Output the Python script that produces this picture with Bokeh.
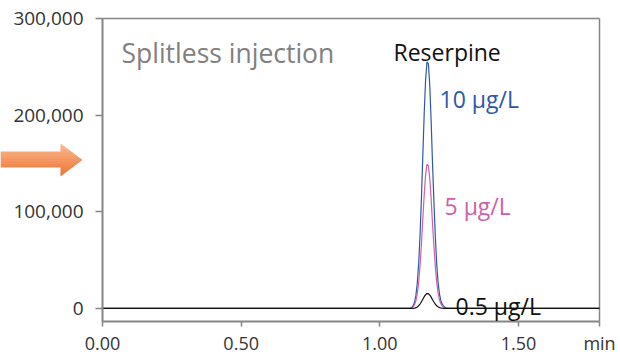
from bokeh.plotting import figure
from bokeh.models import Label, NumeralTickFormatter, FixedTicker
from bokeh.embed import file_html
from bokeh.resources import INLINE

# ---------------- data ----------------
times = [0.00, 1.100, 1.110, 1.115, 1.120, 1.125, 1.130, 1.135, 1.140, 1.145, 1.150,
         1.155, 1.160, 1.165, 1.170, 1.175, 1.180, 1.185, 1.190, 1.195, 1.200,
         1.205, 1.210, 1.215, 1.220, 1.225, 1.230, 1.235, 1.240, 1.250, 1.792]

resp_10 = [0, 0, 400, 1100, 2800, 6400, 13500, 26200, 46500, 76000, 114600,
           158600, 202000, 236700, 255200, 253100, 231000, 193800, 149600, 110500, 74500,
           46300, 27000, 14900, 8000, 4400, 2300, 1300, 500, 0, 0]

resp_5 = [0, 0, 230, 640, 1630, 3740, 7880, 15300, 27100, 44400, 66900,
          92600, 117900, 138200, 149000, 147700, 134800, 113100, 87300, 64500, 43500,
          27000, 15800, 8700, 4700, 2600, 1300, 760, 290, 0, 0]

resp_05 = [0, 0, 24, 66, 170, 390, 810, 1580, 2800, 4580, 6910,
           9560, 12180, 14270, 15390, 15260, 13930, 11690, 9020, 6660, 4490,
           2790, 1630, 900, 480, 270, 140, 80, 30, 0, 0]

x_ticks = [0.0, 0.5, 1.0, 1.5]
y_ticks = [0, 100000, 200000, 300000]

series_labels = ["10 µg/L", "5 µg/L", "0.5 µg/L"]
title_text = "Splitless injection"
compound = "Reserpine"
x_unit = "min"

# ---------------- layout constants ----------------
W, H = 620, 354
T_END = 1.792                # right end of the time axis
Y_BOT, Y_TOP = -13500, 300000
PX_L, PX_R = 102, 599        # pixel x of time 0 and T_END
PY_T, PY_B = 18, 321         # pixel y of Y_TOP and Y_BOT
KX = T_END / (PX_R - PX_L)
KY = (Y_TOP - Y_BOT) / (PY_B - PY_T)

def dx(px):
    return (px - PX_L) * KX

def dy(py):
    return Y_TOP - (py - PY_T) * KY

FONT = "Open Sans"
BLUE = "#2D58A7"
PINK = "#CE5FAA"
BLACK = "#111111"
AXIS = "#858585"

# the frame covers the whole canvas; axes are pinned with fixed_location
p = figure(width=W, height=H, x_range=(dx(0), dx(W)), y_range=(dy(H), dy(0)),
           output_backend="svg", toolbar_location=None,
           min_border_left=0, min_border_right=0, min_border_top=0, min_border_bottom=0)

p.grid.visible = False
p.background_fill_color = "white"
p.border_fill_color = "white"
p.outline_line_color = None

for ax in (p.xaxis, p.yaxis):
    ax.axis_line_color = AXIS
    ax.axis_line_width = 2
    ax.major_tick_line_color = AXIS
    ax.major_tick_line_width = 1.5
    ax.major_tick_in = 0
    ax.minor_tick_line_color = None
    ax.major_label_text_font = FONT
    ax.major_label_text_color = "#333333"

p.yaxis.major_label_text_font_size = "19px"
p.xaxis.major_label_text_font_size = "18px"

p.xaxis.ticker = FixedTicker(ticks=x_ticks + [T_END])
p.xaxis.formatter = NumeralTickFormatter(format="0.00")
p.xaxis.major_label_overrides = {T_END: x_unit}
p.xaxis.bounds = (0, T_END)
p.xaxis.fixed_location = Y_BOT
p.xaxis.major_tick_out = 5
p.xaxis.major_label_standoff = 4

p.yaxis.ticker = FixedTicker(ticks=y_ticks)
p.yaxis.formatter = NumeralTickFormatter(format="0,0")
p.yaxis.bounds = (Y_BOT, Y_TOP)
p.yaxis.fixed_location = 0
p.yaxis.major_tick_out = 7
p.yaxis.major_label_standoff = 12

# top and right frame lines
p.segment(x0=[0, T_END], y0=[Y_TOP, Y_TOP], x1=[T_END, T_END], y1=[Y_TOP, Y_BOT],
          line_color=AXIS, line_width=1.5)

p.line(times, resp_10, line_color=BLUE, line_width=1.2)
p.line(times, resp_5, line_color=PINK, line_width=1.2)
p.line(times, resp_05, line_color=BLACK, line_width=1.2)

def lab(x, y, text, color, size, baseline="alphabetic"):
    p.add_layout(Label(x=x, y=y, text=text, text_color=color, text_font=FONT,
                       text_font_size=size, text_baseline=baseline))

lab(dx(121), dy(52), title_text, "#808080", "26.5px")
lab(dx(393), dy(51), compound, "#111111", "23px")
lab(dx(439), dy(98), series_labels[0], BLUE, "23px")
lab(dx(444), dy(205), series_labels[1], PINK, "23px")
lab(dx(455), dy(305), series_labels[2], "#111111", "23px")

# ---------------- orange arrow (decoration, vertical gradient) ----------------
arrow_px = [(0, 151), (60, 151), (60, 143), (82, 159.5), (60, 176), (60, 167), (0, 167)]

def clip(poly, yv, keep_below):
    out = []
    n = len(poly)
    for i in range(n):
        a, b = poly[i], poly[(i + 1) % n]
        ina = (a[1] >= yv) if keep_below else (a[1] <= yv)
        inb = (b[1] >= yv) if keep_below else (b[1] <= yv)
        if ina:
            out.append(a)
        if ina != inb:
            t = (yv - a[1]) / (b[1] - a[1])
            out.append((a[0] + t * (b[0] - a[0]), yv))
    return out

def mix(c1, c2, f):
    a = [int(c1[i:i + 2], 16) for i in (1, 3, 5)]
    b = [int(c2[i:i + 2], 16) for i in (1, 3, 5)]
    return "#%02x%02x%02x" % tuple(round(a[k] + (b[k] - a[k]) * f) for k in range(3))

top_c, bot_c = "#FBBB93", "#EE7230"
nb = 11
ya, yb = 143, 176
axs, ays, cols = [], [], []
for i in range(nb):
    y0 = ya + (yb - ya) * i / nb
    y1 = ya + (yb - ya) * (i + 1) / nb + (0.6 if i < nb - 1 else 0)
    poly = clip(clip(arrow_px, y0, True), y1, False)
    if len(poly) < 3:
        continue
    axs.append([dx(x) for x, _ in poly])
    ays.append([dy(y) for _, y in poly])
    cols.append(mix(top_c, bot_c, (i + 0.5) / nb))
p.patches(axs, ays, fill_color=cols, line_color=None)

open("out.html", "w").write(file_html(p, INLINE))
